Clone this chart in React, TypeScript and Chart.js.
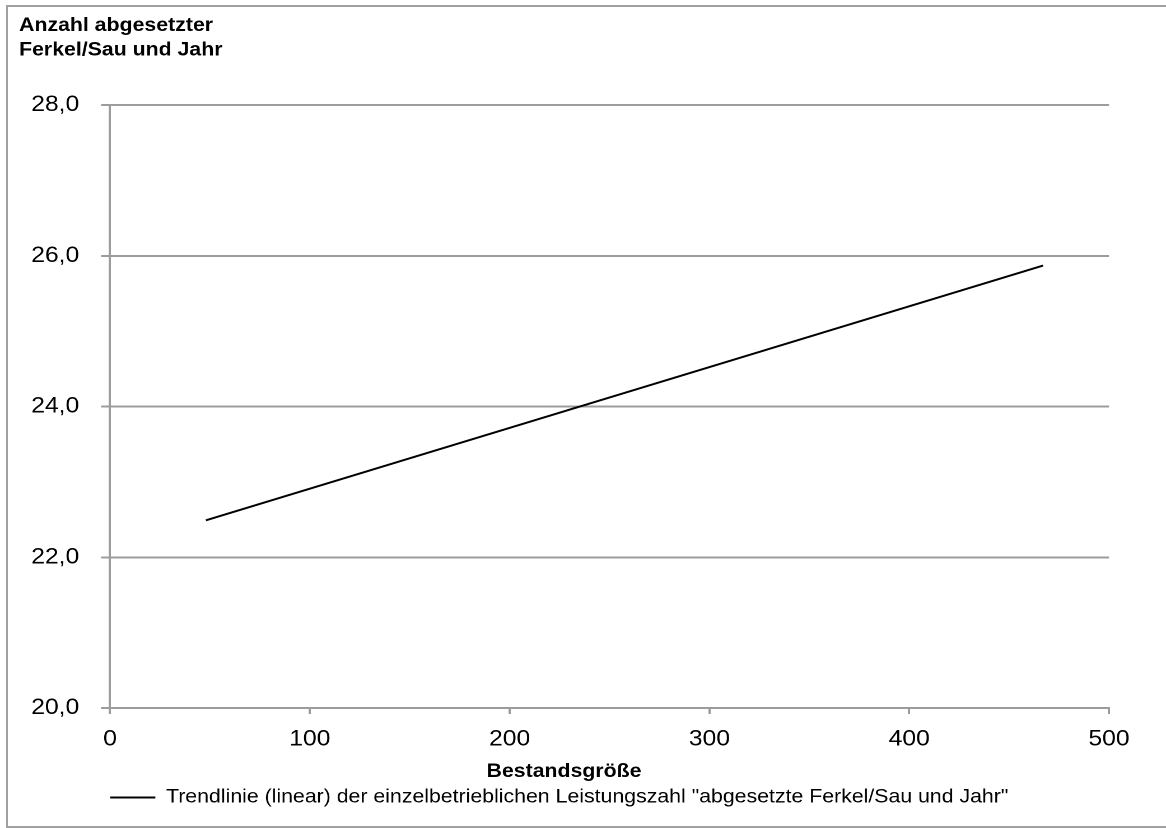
import { useEffect, useRef } from "react";
import { Chart, registerables } from "chart.js";

Chart.register(...registerables);

// ---- data ----
const titleLines = ["Anzahl abgesetzter", "Ferkel/Sau und Jahr"];
const xAxisTitle = "Bestandsgröße";
const seriesLabel =
  'Trendlinie (linear) der einzelbetrieblichen Leistungszahl "abgesetzte Ferkel/Sau und Jahr"';
const trendX = [48, 467];
const trendY = [22.49, 25.87];
const xTickValues = [0, 100, 200, 300, 400, 500];
const yTickValues = [20, 22, 24, 26, 28];

// ---- layout / style ----
const CANVAS_W = 1041; // internal width, shown stretched to 1166px
const CANVAS_H = 828;
const GRID = "#9c9c9c";
const FONT = "'Liberation Sans', Arial, Helvetica, sans-serif";

export default function App() {
  const ref = useRef<HTMLCanvasElement | null>(null);

  useEffect(() => {
    if (!ref.current) return;
    Chart.defaults.font.family = FONT;
    const chart = new Chart(ref.current, {
      type: "line",
      data: {
        datasets: [
          {
            label: seriesLabel,
            data: trendX.map((x, i) => ({ x, y: trendY[i] })),
            borderColor: "#000000",
            backgroundColor: "#000000",
            borderWidth: 2,
            pointRadius: 0,
            pointHoverRadius: 0,
            fill: false,
            tension: 0,
          },
        ],
      },
      options: {
        animation: false,
        responsive: false,
        devicePixelRatio: 2,
        events: [],
        layout: { padding: { top: 0, left: 17, right: 50.9, bottom: 11 } },
        scales: {
          x: {
            type: "linear",
            min: xTickValues[0],
            max: xTickValues[xTickValues.length - 1],
            afterBuildTicks: (s: any) => {
              s.ticks = xTickValues.map((v) => ({ value: v }));
            },
            afterFit: (s: any) => {
              s.height = 45;
            },
            grid: {
              drawOnChartArea: false,
              drawTicks: true,
              tickLength: 6,
              color: GRID,
              lineWidth: 2,
            },
            border: { display: true, color: GRID, width: 2 },
            ticks: {
              padding: 12.3,
              color: "#000000",
              font: { size: 22 },
              maxRotation: 0,
              autoSkip: false,
              callback: (v: any) => String(v),
            },
          },
          y: {
            type: "linear",
            min: yTickValues[0],
            max: yTickValues[yTickValues.length - 1],
            afterBuildTicks: (s: any) => {
              s.ticks = yTickValues.map((v) => ({ value: v }));
            },
            afterFit: (s: any) => {
              s.width = 81.2;
            },
            grid: { color: GRID, lineWidth: 2, tickLength: 8, drawTicks: true },
            border: { display: true, color: GRID, width: 2 },
            ticks: {
              padding: 19.5,
              color: "#000000",
              font: { size: 22 },
              autoSkip: false,
              callback: (v: any) => Number(v).toFixed(1).replace(".", ","),
            },
          },
        },
        plugins: {
          tooltip: { enabled: false },
          title: {
            display: true,
            text: titleLines,
            align: "start",
            color: "#000000",
            font: { size: 19, weight: "bold", lineHeight: 24.5 / 19 },
            padding: { top: 13.5, bottom: 42.5 },
          },
          subtitle: {
            display: true,
            position: "bottom",
            text: xAxisTitle,
            align: "center",
            color: "#000000",
            weight: 500,
            font: { size: 19, weight: "bold", lineHeight: 1.2 },
            padding: { top: 7.6, bottom: 4.6 },
          },
          legend: {
            display: true,
            position: "bottom",
            align: "start",
            fullSize: false,
            weight: 1000,
            labels: {
              color: "#000000",
              font: { size: 19 },
              padding: 0,
              usePointStyle: true,
              pointStyle: "line",
              pointStyleWidth: 40.5,
            },
          },
        },
      } as any,
    });
    return () => chart.destroy();
  }, []);

  return (
    <div
      style={{
        position: "absolute",
        left: 0,
        top: 0,
        width: "1166px",
        height: "828px",
        overflow: "hidden",
        background: "#ffffff",
      }}
    >
      <div
        style={{
          position: "absolute",
          left: "6px",
          top: "5px",
          width: "1300px",
          height: "823px",
          border: "2px solid #a0a0a0",
          boxSizing: "border-box",
        }}
      />
      <canvas
        ref={ref}
        width={CANVAS_W}
        height={CANVAS_H}
        style={{
          position: "absolute",
          left: 0,
          top: 0,
          width: "1166px",
          height: "828px",
        }}
      />
    </div>
  );
}
